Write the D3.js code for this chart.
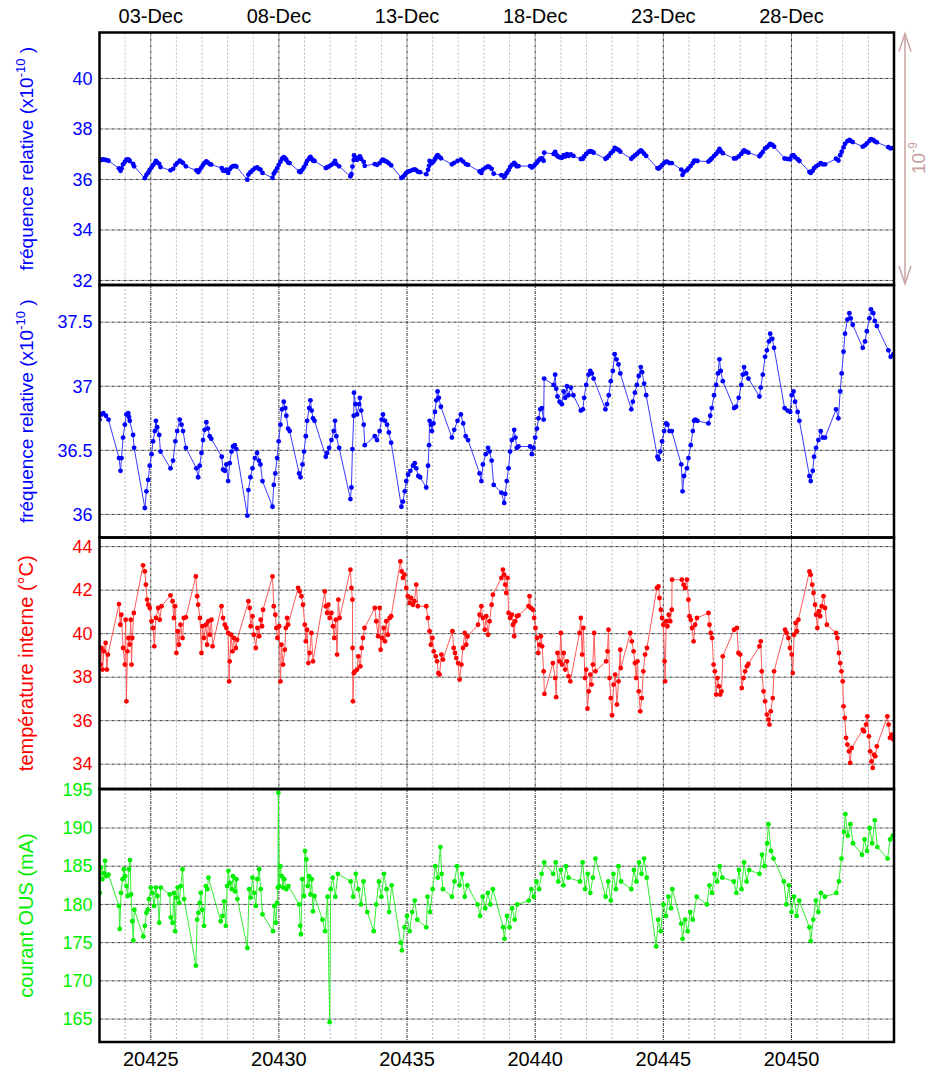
<!DOCTYPE html>
<html lang="fr">
<head>
<meta charset="UTF-8">
<script src="https://cdn.jsdelivr.net/npm/d3@7"></script>
<style>
  body { margin: 0; background: #fff; }
  svg text { font-family: "Liberation Sans", Arial, Helvetica, sans-serif; }
</style>
</head>
<body>
<div id="chart"></div>
<script>
// x axis: day numbers and their calendar labels
const dayTicks = [20425, 20430, 20435, 20440, 20445, 20450];
const dateLabels = ["03-Dec", "08-Dec", "13-Dec", "18-Dec", "23-Dec", "28-Dec"];

// relative frequency (x1e-10), [day, value]
const freqData = [
  [20423.00,36.74],[20423.08,36.78],[20423.15,36.79],[20423.25,36.77],[20423.35,36.74],
  [20423.76,36.44],[20423.82,36.34],[20423.86,36.44],[20423.92,36.60],[20423.99,36.70],[20424.05,36.78],[20424.12,36.79],[20424.15,36.76],[20424.18,36.73],[20424.31,36.62],[20424.35,36.52],
  [20424.77,36.05],[20424.83,36.18],[20424.90,36.27],[20424.96,36.38],[20425.03,36.47],[20425.09,36.57],[20425.16,36.65],[20425.20,36.73],[20425.25,36.68],[20425.33,36.62],[20425.38,36.49],
  [20425.77,36.36],[20425.87,36.42],[20425.96,36.57],[20426.03,36.65],[20426.13,36.74],[20426.20,36.70],[20426.26,36.65],[20426.37,36.52],
  [20426.78,36.36],[20426.85,36.29],[20426.91,36.38],[20426.98,36.48],[20427.04,36.58],[20427.10,36.66],[20427.17,36.72],[20427.23,36.67],[20427.30,36.61],[20427.36,36.59],
  [20427.77,36.45],[20427.82,36.35],[20427.89,36.34],[20427.95,36.39],[20428.02,36.26],[20428.08,36.40],[20428.15,36.49],[20428.21,36.53],[20428.28,36.54],[20428.34,36.51],
  [20428.77,35.99],[20428.81,36.19],[20428.89,36.29],[20428.97,36.36],[20429.06,36.44],[20429.15,36.48],[20429.22,36.42],[20429.28,36.39],[20429.36,36.26],
  [20429.75,36.06],[20429.80,36.23],[20429.86,36.32],[20429.93,36.44],[20429.99,36.57],[20430.06,36.70],[20430.12,36.82],[20430.19,36.88],[20430.25,36.83],[20430.29,36.77],[20430.36,36.67],[20430.42,36.65],
  [20430.79,36.32],[20430.84,36.29],[20430.92,36.39],[20430.98,36.49],[20431.05,36.61],[20431.10,36.73],[20431.18,36.83],[20431.23,36.89],[20431.28,36.81],[20431.33,36.75],[20431.39,36.73],
  [20431.83,36.45],[20431.88,36.48],[20431.96,36.52],[20432.05,36.58],[20432.14,36.65],[20432.19,36.73],[20432.24,36.61],[20432.35,36.52],
  [20432.79,36.12],[20432.83,36.21],[20432.87,36.51],[20432.92,36.77],[20432.93,36.95],[20432.99,36.86],[20433.05,36.78],[20433.13,36.86],[20433.16,36.91],[20433.21,36.81],[20433.31,36.70],[20433.35,36.54],
  [20433.74,36.61],[20433.83,36.58],[20433.93,36.65],[20434.01,36.74],[20434.06,36.78],[20434.14,36.73],[20434.22,36.70],[20434.29,36.64],[20434.38,36.56],
  [20434.78,36.06],[20434.84,36.10],[20434.91,36.18],[20434.97,36.26],[20435.04,36.31],[20435.13,36.34],[20435.23,36.38],[20435.30,36.40],[20435.36,36.36],[20435.44,36.30],[20435.51,36.29],
  [20435.75,36.21],[20435.82,36.38],[20435.86,36.54],[20435.88,36.73],[20435.93,36.70],[20435.97,36.65],[20436.03,36.71],[20436.09,36.80],[20436.14,36.89],[20436.19,36.96],[20436.24,36.91],[20436.32,36.84],
  [20436.75,36.60],[20436.84,36.66],[20436.97,36.73],[20437.10,36.78],[20437.19,36.71],[20437.29,36.61],[20437.38,36.58],
  [20437.83,36.32],[20437.90,36.26],[20437.96,36.39],[20438.07,36.47],[20438.16,36.52],[20438.22,36.49],[20438.30,36.42],[20438.38,36.23],
  [20438.68,36.17],[20438.79,36.09],[20438.83,36.16],[20438.89,36.26],[20438.96,36.36],[20439.02,36.49],[20439.09,36.58],[20439.18,36.66],[20439.23,36.60],[20439.28,36.52],[20439.35,36.53],
  [20439.80,36.53],[20439.87,36.47],[20439.93,36.52],[20440.00,36.60],[20440.07,36.67],[20440.13,36.75],[20440.20,36.82],[20440.26,36.83],[20440.33,36.74],[20440.35,37.06],
  [20440.72,37.01],[20440.78,37.09],[20440.82,36.98],[20440.87,36.92],[20440.95,36.88],[20441.04,36.86],[20441.11,36.96],[20441.17,36.91],[20441.24,37.00],[20441.30,36.93],[20441.39,36.99],[20441.49,36.93],
  [20441.78,36.81],[20441.86,36.82],[20441.91,36.91],[20441.99,37.01],[20442.08,37.09],[20442.15,37.12],[20442.21,37.10],[20442.28,37.06],
  [20442.74,36.82],[20442.80,36.86],[20442.87,36.93],[20442.95,37.04],[20443.03,37.12],[20443.10,37.25],[20443.17,37.21],[20443.25,37.17],[20443.32,37.10],
  [20443.75,36.82],[20443.81,36.88],[20443.89,36.95],[20443.97,37.01],[20444.04,37.08],[20444.12,37.15],[20444.17,37.11],[20444.25,37.02],[20444.33,36.93],
  [20444.77,36.45],[20444.82,36.43],[20444.88,36.49],[20444.95,36.57],[20445.03,36.65],[20445.11,36.71],[20445.16,36.70],[20445.24,36.65],[20445.33,36.65],
  [20445.70,36.39],[20445.75,36.18],[20445.81,36.30],[20445.92,36.36],[20445.98,36.44],[20446.07,36.54],[20446.15,36.65],[20446.20,36.73],[20446.25,36.74],[20446.33,36.73],
  [20446.76,36.71],[20446.83,36.77],[20446.89,36.83],[20446.98,36.93],[20447.06,37.01],[20447.13,37.10],[20447.19,37.21],[20447.24,37.12],[20447.32,37.04],
  [20447.76,36.83],[20447.84,36.84],[20447.94,36.91],[20448.04,37.01],[20448.10,37.09],[20448.15,37.15],[20448.23,37.10],[20448.32,37.06],
  [20448.75,36.92],[20448.80,36.99],[20448.88,37.09],[20448.97,37.23],[20449.04,37.28],[20449.12,37.35],[20449.17,37.41],[20449.25,37.37],[20449.32,37.30],
  [20449.73,36.83],[20449.85,36.81],[20449.95,36.80],[20450.01,36.93],[20450.08,36.96],[20450.14,36.88],[20450.24,36.80],[20450.31,36.73],
  [20450.70,36.30],[20450.75,36.26],[20450.83,36.34],[20450.88,36.45],[20450.96,36.52],[20451.05,36.58],[20451.14,36.65],[20451.22,36.60],[20451.31,36.60],
  [20451.74,36.82],[20451.83,36.75],[20451.90,36.96],[20451.96,37.10],[20452.03,37.27],[20452.09,37.41],[20452.18,37.52],[20452.26,37.57],[20452.31,37.53],[20452.39,37.48],
  [20452.78,37.30],[20452.87,37.35],[20452.94,37.43],[20453.04,37.53],[20453.10,37.60],[20453.19,37.57],[20453.25,37.51],[20453.33,37.47],
  [20453.78,37.28],[20453.87,37.23],[20453.98,37.25]
];

// internal temperature (°C), [day, value]
const tempData = [
  [20423.04,38.58],[20423.08,39.34],[20423.12,38.35],[20423.17,39.19],[20423.24,39.57],[20423.29,38.35],[20423.33,39.04],
  [20423.76,41.36],[20423.81,40.41],[20423.85,40.87],[20423.92,39.34],[20423.99,38.58],[20424.02,40.64],[20424.05,36.89],[20424.09,39.19],[20424.13,39.80],[20424.18,39.50],[20424.22,40.64],[20424.25,38.58],[20424.28,39.80],[20424.34,40.95],
  [20424.70,43.14],[20424.77,42.86],[20424.81,42.25],[20424.86,41.56],[20424.90,41.33],[20424.96,41.18],[20425.03,40.57],[20425.09,40.26],[20425.14,39.42],[20425.20,40.72],[20425.29,41.18],[20425.35,40.64],[20425.42,41.26],
  [20425.77,41.76],[20425.85,41.49],[20425.90,40.72],[20425.95,41.26],[20426.00,39.11],[20426.05,40.11],[20426.10,39.49],[20426.16,40.41],[20426.24,39.80],[20426.29,40.72],[20426.37,40.75],
  [20426.76,42.63],[20426.81,41.72],[20426.85,41.33],[20426.92,40.72],[20426.98,39.11],[20427.02,40.34],[20427.07,39.80],[20427.15,40.41],[20427.20,39.49],[20427.25,40.57],[20427.30,39.95],[20427.37,40.64],[20427.41,39.42],
  [20427.76,41.26],[20427.82,40.72],[20427.89,40.41],[20427.95,40.26],[20428.02,40.03],[20428.06,37.81],[20428.08,38.73],[20428.13,39.95],[20428.19,39.19],[20428.24,39.80],[20428.32,39.34],[20428.37,39.72],
  [20428.81,41.49],[20428.86,41.18],[20428.90,40.34],[20428.97,40.80],[20429.02,39.95],[20429.10,39.34],[20429.16,40.26],[20429.23,39.88],[20429.29,40.64],[20429.34,40.34],[20429.38,41.10],
  [20429.75,42.63],[20429.80,41.26],[20429.86,40.87],[20429.90,40.26],[20429.94,39.80],[20430.01,40.34],[20430.06,37.81],[20430.10,39.49],[20430.16,38.58],[20430.23,39.26],[20430.27,40.26],[20430.32,40.72],[20430.36,40.41],
  [20430.75,42.10],[20430.81,41.94],[20430.88,41.72],[20430.94,41.33],[20431.01,40.41],[20431.05,39.65],[20431.10,40.18],[20431.15,38.65],[20431.20,39.11],[20431.27,40.03],[20431.33,38.73],
  [20431.79,41.94],[20431.83,41.26],[20431.88,40.95],[20431.93,41.33],[20431.98,40.72],[20432.05,40.95],[20432.11,40.34],[20432.16,39.80],[20432.22,40.64],[20432.27,39.04],[20432.32,41.56],[20432.37,40.72],
  [20432.79,42.94],[20432.83,42.10],[20432.87,41.56],[20432.875,39.34],[20432.89,36.89],[20432.92,38.19],[20432.97,38.27],[20433.05,38.35],[20433.10,38.96],[20433.18,38.50],[20433.23,39.34],[20433.28,39.80],[20433.34,40.26],
  [20433.74,41.18],[20433.80,40.57],[20433.87,39.88],[20433.93,41.18],[20433.97,39.26],[20434.03,39.80],[20434.09,40.26],[20434.14,39.65],[20434.19,40.57],[20434.25,39.95],[20434.32,40.72],[20434.38,40.80],
  [20434.74,43.32],[20434.79,42.86],[20434.84,42.56],[20434.90,42.71],[20434.97,42.10],[20435.03,41.72],[20435.10,41.41],[20435.16,41.64],[20435.23,41.33],[20435.29,41.49],[20435.36,42.25],[20435.42,41.26],
  [20435.75,41.26],[20435.81,40.72],[20435.88,40.11],[20435.93,39.49],[20435.99,39.80],[20436.04,39.19],[20436.12,38.96],[20436.17,38.73],[20436.22,38.19],[20436.27,38.12],[20436.34,39.04],[20436.40,38.81],
  [20436.77,40.11],[20436.82,39.34],[20436.87,39.11],[20436.92,38.88],[20436.99,38.65],[20437.05,37.89],[20437.12,38.58],[20437.18,39.34],[20437.25,40.03],[20437.31,39.49],[20437.36,39.87],
  [20437.77,40.41],[20437.83,40.87],[20437.90,41.26],[20437.96,40.72],[20438.03,40.18],[20438.09,40.80],[20438.16,39.95],[20438.22,40.57],[20438.30,41.33],[20438.35,41.79],
  [20438.68,42.56],[20438.74,42.94],[20438.79,42.71],[20438.83,42.25],[20438.87,41.87],[20438.92,42.56],[20438.96,40.95],[20439.02,40.72],[20439.09,40.87],[20439.13,40.41],[20439.18,39.88],[20439.22,40.57],[20439.29,40.80],[20439.35,40.84],
  [20439.74,41.26],[20439.78,41.72],[20439.83,41.18],[20439.91,41.10],[20439.96,40.72],[20440.01,40.26],[20440.07,39.80],[20440.12,39.11],[20440.17,39.49],[20440.22,39.88],[20440.27,39.42],[20440.33,38.27],[20440.36,37.23],
  [20440.69,38.65],[20440.78,37.96],[20440.82,37.08],[20440.87,39.11],[20440.95,38.73],[20441.00,40.03],[20441.05,38.58],[20441.11,39.11],[20441.17,38.35],[20441.24,38.73],[20441.30,38.04],[20441.37,37.81],
  [20441.73,40.03],[20441.78,40.72],[20441.83,39.04],[20441.88,40.26],[20441.94,37.96],[20441.99,38.35],[20442.04,36.55],[20442.09,37.35],[20442.15,38.12],[20442.20,37.66],[20442.25,38.58],[20442.30,40.03],[20442.35,38.27],
  [20442.77,38.73],[20442.82,39.19],[20442.86,40.18],[20442.90,37.96],[20442.95,37.04],[20443.00,36.25],[20443.06,37.66],[20443.12,38.12],[20443.19,36.74],[20443.25,37.81],[20443.32,39.26],[20443.34,38.42],
  [20443.71,40.03],[20443.77,39.65],[20443.84,39.19],[20443.89,38.65],[20443.94,37.96],[20443.99,38.73],[20444.04,37.35],[20444.10,36.43],[20444.16,37.04],[20444.22,38.27],[20444.29,39.04],[20444.36,39.34],
  [20444.75,42.10],[20444.81,42.17],[20444.85,41.64],[20444.90,41.10],[20444.95,40.72],[20445.00,40.41],[20445.05,38.73],[20445.07,37.81],[20445.11,40.57],[20445.16,40.34],[20445.21,40.87],[20445.27,40.57],[20445.33,41.10],[20445.34,42.48],
  [20445.72,42.48],[20445.79,42.25],[20445.85,42.10],[20445.92,42.48],[20445.98,41.56],[20446.02,40.80],[20446.07,40.64],[20446.12,40.26],[20446.18,39.65],[20446.24,40.41],[20446.31,40.72],
  [20446.76,40.95],[20446.80,40.41],[20446.85,40.03],[20446.90,39.80],[20446.96,38.58],[20447.01,38.27],[20447.06,37.20],[20447.11,37.96],[20447.17,37.58],[20447.22,37.20],[20447.27,37.35],[20447.32,38.96],
  [20447.76,40.18],[20447.87,40.26],[20447.93,39.11],[20448.00,39.04],[20448.06,37.50],[20448.13,37.96],[20448.19,38.27],[20448.26,38.50],[20448.32,38.61],
  [20448.75,39.42],[20448.80,39.65],[20448.84,38.27],[20448.91,37.35],[20448.97,36.89],[20449.04,36.28],[20449.10,36.05],[20449.14,35.82],[20449.19,36.43],[20449.27,37.04],[20449.32,38.27],
  [20449.75,40.18],[20449.81,40.03],[20449.88,39.80],[20449.94,39.34],[20450.01,39.04],[20450.05,38.19],[20450.10,39.95],[20450.16,40.49],[20450.21,40.11],[20450.27,40.64],
  [20450.70,42.86],[20450.75,42.71],[20450.81,42.25],[20450.86,41.87],[20450.92,41.33],[20450.96,40.87],[20451.01,40.26],[20451.07,41.03],[20451.12,40.80],[20451.18,41.26],[20451.25,41.72],[20451.31,41.18],[20451.38,40.41],
  [20451.74,40.03],[20451.79,39.80],[20451.85,39.11],[20451.90,38.65],[20451.95,38.27],[20452.00,37.81],[20452.03,36.66],[20452.08,36.13],[20452.13,35.21],[20452.18,34.90],[20452.24,34.59],[20452.29,34.06],[20452.35,34.75],
  [20452.78,35.59],[20452.83,35.51],[20452.91,35.82],[20452.96,36.20],[20453.02,35.28],[20453.07,34.59],[20453.12,34.13],[20453.17,33.83],[20453.22,34.44],[20453.27,34.36],[20453.33,34.82],
  [20453.74,36.20],[20453.79,35.82],[20453.84,35.21],[20453.91,35.36],[20453.98,35.13]
];

// OUS current (mA), [day, value]
const currentData = [
  [20423.01,181.5],[20423.05,184.8],[20423.11,183.3],[20423.17,184.1],[20423.22,185.7],[20423.27,183.7],[20423.35,183.9],
  [20423.76,179.8],[20423.79,176.8],[20423.84,181.5],[20423.90,183.3],[20423.95,184.6],[20424.00,183.7],[20424.05,182.4],[20424.10,181.1],[20424.15,184.6],[20424.19,185.8],[20424.23,181.3],[20424.28,177.8],[20424.32,175.3],[20424.36,179.3],
  [20424.71,175.8],[20424.77,177.2],[20424.83,178.9],[20424.88,179.3],[20424.93,180.7],[20425.00,182.2],[20425.07,181.5],[20425.13,179.8],[20425.20,182.2],[20425.26,181.1],[20425.33,177.6],[20425.39,182.2],
  [20425.74,181.3],[20425.78,178.3],[20425.85,177.6],[20425.91,181.5],[20425.95,176.5],[20426.00,180.9],[20426.05,182.2],[20426.11,180.2],[20426.17,182.4],[20426.24,184.6],[20426.30,180.7],
  [20426.76,172.0],[20426.81,178.0],[20426.86,178.9],[20426.91,180.2],[20426.95,181.5],[20427.01,179.3],[20427.08,177.2],[20427.15,182.4],[20427.21,182.0],[20427.25,183.5],
  [20427.73,177.8],[20427.80,178.5],[20427.86,180.4],[20427.93,177.2],[20427.98,182.4],[20428.03,184.4],[20428.08,182.8],[20428.16,182.0],[20428.21,183.7],[20428.29,181.7],[20428.34,183.3],[20428.38,180.7],
  [20428.77,174.3],[20428.84,182.0],[20428.90,180.9],[20428.97,183.5],[20429.03,181.5],[20429.10,179.8],[20429.16,183.3],[20429.23,184.6],[20429.29,182.0],[20429.36,178.7],
  [20429.77,176.5],[20429.82,179.8],[20429.88,177.6],[20429.93,180.2],[20429.96,182.2],[20429.98,194.6],[20430.01,182.4],[20430.06,185.0],[20430.11,183.7],[20430.16,182.2],[20430.21,183.3],[20430.29,182.0],[20430.37,182.4],
  [20430.79,180.0],[20430.83,177.2],[20430.86,176.1],[20430.91,183.3],[20430.98,181.1],[20431.02,187.0],[20431.07,185.9],[20431.12,182.4],[20431.18,183.7],[20431.23,181.3],[20431.28,183.3],[20431.33,179.1],[20431.39,181.1],
  [20431.70,178.0],[20431.80,176.5],[20431.90,181.0],[20431.98,164.6],[20432.02,182.0],[20432.10,183.5],[20432.20,181.0],[20432.30,184.0],
  [20432.80,183.0],[20432.90,181.0],[20433.00,184.0],[20433.10,182.0],[20433.20,180.0],[20433.30,183.0],[20433.45,179.0],
  [20433.70,176.5],[20433.80,180.0],[20433.90,183.0],[20434.00,181.0],[20434.10,184.0],[20434.20,182.0],[20434.30,179.0],[20434.40,182.5],
  [20434.75,175.0],[20434.80,174.0],[20434.90,177.0],[20435.00,178.5],[20435.10,176.5],[20435.20,179.0],[20435.30,180.5],[20435.40,178.0],
  [20435.75,177.0],[20435.80,181.0],[20435.90,179.0],[20436.00,182.0],[20436.10,185.0],[20436.20,183.5],[20436.30,187.5],[20436.35,184.0],[20436.40,182.0],
  [20436.75,181.0],[20436.85,183.0],[20436.95,185.0],[20437.05,182.5],[20437.15,184.0],[20437.25,181.0],[20437.35,182.5],
  [20437.75,180.0],[20437.85,178.5],[20437.95,181.0],[20438.05,179.5],[20438.15,181.5],[20438.25,180.0],[20438.35,182.0],
  [20438.75,177.0],[20438.80,175.5],[20438.90,178.5],[20439.00,177.0],[20439.10,179.5],[20439.20,178.0],[20439.30,180.0],
  [20439.75,180.5],[20439.85,182.0],[20439.95,181.0],[20440.05,183.0],[20440.15,182.0],[20440.25,184.0],[20440.35,185.5],
  [20440.70,184.0],[20440.80,185.5],[20440.90,183.0],[20441.00,184.5],[20441.10,182.5],[20441.20,185.0],[20441.30,183.5],
  [20441.75,183.0],[20441.85,185.5],[20441.95,182.0],[20442.05,184.0],[20442.15,181.5],[20442.25,183.5],[20442.35,186.0],
  [20442.75,181.0],[20442.85,183.0],[20442.95,180.5],[20443.05,184.0],[20443.15,182.0],[20443.25,185.0],[20443.35,183.0],
  [20443.75,182.0],[20443.85,184.5],[20443.95,183.0],[20444.05,185.5],[20444.15,184.0],[20444.25,186.0],[20444.35,183.5],
  [20444.72,174.5],[20444.80,178.0],[20444.90,176.5],[20445.00,180.0],[20445.10,178.5],[20445.20,181.0],[20445.30,179.5],[20445.35,182.0],
  [20445.70,177.5],[20445.75,175.5],[20445.85,178.0],[20445.95,176.5],[20446.05,179.0],[20446.15,178.0],[20446.30,181.0],
  [20446.70,180.0],[20446.80,182.5],[20446.90,181.5],[20447.00,184.0],[20447.10,183.0],[20447.20,185.0],[20447.30,183.5],
  [20447.75,183.0],[20447.85,181.5],[20447.95,184.5],[20448.05,182.0],[20448.15,185.5],[20448.25,183.0],[20448.35,184.5],
  [20448.75,184.0],[20448.85,186.5],[20448.95,185.0],[20449.05,188.0],[20449.10,190.5],[20449.20,187.0],[20449.30,186.0],
  [20449.70,183.0],[20449.80,180.0],[20449.90,182.5],[20450.00,179.0],[20450.10,181.0],[20450.20,178.5],[20450.30,180.5],
  [20450.70,177.0],[20450.75,175.2],[20450.85,178.0],[20450.95,180.5],[20451.05,179.0],[20451.15,181.5],[20451.30,181.0],
  [20451.75,181.5],[20451.85,183.0],[20451.95,186.0],[20452.05,189.5],[20452.10,191.8],[20452.20,189.0],[20452.30,190.5],[20452.40,188.0],
  [20452.75,186.5],[20452.85,188.5],[20452.95,187.0],[20453.05,190.0],[20453.15,188.0],[20453.25,191.0],[20453.35,187.5],
  [20453.75,186.0],[20453.85,188.5],[20453.95,189.0]
];

const W = 930, H = 1071;
const left = 99.5, right = 894;
const panelTops = [32.5, 285, 537.5, 789, 1042];

const svg = d3.select("#chart").append("svg")
  .attr("width", W).attr("height", H);

const x = d3.scaleLinear().domain([20423, 20454]).range([left, right]);

const panels = [
  { data: freqData, domain: [31.82, 41.82], ticks: [32, 34, 36, 38, 40], size: 19,
    color: "#0000ff", line: "#3a3aff", label: "fréquence relative (x10", sup: "-10", tail: " )" },
  { data: freqData, domain: [35.82, 37.79], ticks: [36, 36.5, 37, 37.5], size: 19,
    color: "#0000ff", line: "#3a3aff", label: "fréquence relative (x10", sup: "-10", tail: " )" },
  { data: tempData, domain: [32.86, 44.42], ticks: [34, 36, 38, 40, 42, 44], size: 20,
    color: "#ff0000", line: "#ff5a5a", label: "température interne (°C)" },
  { data: currentData, domain: [162.0, 195.1], ticks: [165, 170, 175, 180, 185, 190, 195], size: 20,
    color: "#00ee00", line: "#33ee33", label: "courant OUS (mA)" }
];

const minorDays = d3.range(20424, 20454);

panels.forEach((p, i) => {
  const top = panelTops[i], bottom = panelTops[i + 1];
  const y = d3.scaleLinear().domain(p.domain).range([bottom, top]);
  const g = svg.append("g");

  g.append("clipPath").attr("id", "clip" + i)
    .append("rect").attr("x", left).attr("y", top)
    .attr("width", right - left).attr("height", bottom - top);

  // minor vertical grid (every day)
  g.selectAll(".minor").data(minorDays.filter(d => d % 5 !== 0)).join("line")
    .attr("x1", d => x(d)).attr("x2", d => x(d))
    .attr("y1", top).attr("y2", bottom)
    .attr("stroke", "#b8b8b8").attr("stroke-width", 1)
    .attr("stroke-dasharray", "2,2");

  // major vertical grid
  g.selectAll(".major").data(dayTicks).join("line")
    .attr("x1", d => x(d)).attr("x2", d => x(d))
    .attr("y1", top).attr("y2", bottom)
    .attr("stroke", "#333").attr("stroke-width", 1)
    .attr("stroke-dasharray", "3,1,1,1");

  // horizontal grid
  g.selectAll(".hgrid").data(p.ticks).join("line")
    .attr("x1", left).attr("x2", right)
    .attr("y1", d => y(d)).attr("y2", d => y(d))
    .attr("stroke", "#333").attr("stroke-width", 1)
    .attr("stroke-dasharray", "3,1,1,1");

  // y axis labels
  const axis = g.append("g").attr("transform", `translate(${left},0)`)
    .call(d3.axisLeft(y).tickValues(p.ticks).tickFormat(d => String(d)).tickSize(0).tickPadding(7));
  axis.select(".domain").remove();
  axis.selectAll("text").attr("fill", p.color).attr("font-size", 18)
    .attr("font-family", "'Liberation Sans', Arial, sans-serif");

  // series
  const plot = g.append("g").attr("clip-path", `url(#clip${i})`);
  plot.append("path").datum(p.data)
    .attr("fill", "none").attr("stroke", p.line).attr("stroke-width", 1)
    .attr("d", d3.line().x(d => x(d[0])).y(d => y(d[1])));
  plot.selectAll("circle").data(p.data).join("circle")
    .attr("cx", d => x(d[0])).attr("cy", d => y(d[1]))
    .attr("r", 2.4).attr("fill", p.color);

  // axis title
  const cy = (top + bottom) / 2;
  const t = g.append("text")
    .attr("transform", `translate(33,${cy}) rotate(-90)`)
    .attr("text-anchor", "middle").attr("fill", p.color).attr("font-size", p.size);
  t.append("tspan").text(p.label);
  if (p.sup) {
    t.append("tspan").attr("dy", -8).attr("font-size", 13).text(p.sup);
    t.append("tspan").attr("dy", 8).text(p.tail);
  }

  // panel frame
  g.append("rect").attr("x", left).attr("y", top)
    .attr("width", right - left).attr("height", bottom - top)
    .attr("fill", "none").attr("stroke", "#000").attr("stroke-width", 2.5);
});

// bottom axis labels
svg.append("g").selectAll("text").data(dayTicks).join("text")
  .attr("x", d => x(d)).attr("y", 1066)
  .attr("text-anchor", "middle").attr("font-size", 20).attr("fill", "#000")
  .text(d => d);

// top date labels
svg.append("g").selectAll("text").data(dayTicks).join("text")
  .attr("x", d => x(d)).attr("y", 23)
  .attr("text-anchor", "middle").attr("font-size", 20).attr("fill", "#000")
  .text((d, i) => dateLabels[i]);

// scale arrow showing 1e-9 on the top panel
const arrowColor = "#c9a3a3";
const yTop = panelTops[0] + 1, yBot = panelTops[1] - 1, ax = 905;
const arrow = svg.append("g").attr("stroke", arrowColor).attr("stroke-width", 1.5).attr("fill", "none");
arrow.append("line").attr("x1", ax).attr("x2", ax).attr("y1", yTop).attr("y2", yBot);
arrow.append("path").attr("d", `M${ax - 6},${yTop + 18}L${ax},${yTop}L${ax + 6},${yTop + 18}`);
arrow.append("path").attr("d", `M${ax - 6},${yBot - 18}L${ax},${yBot}L${ax + 6},${yBot - 18}`);
const lab = svg.append("text")
  .attr("transform", `translate(925,174) rotate(-90)`)
  .attr("fill", arrowColor).attr("font-size", 19);
lab.append("tspan").text("10");
lab.append("tspan").attr("dy", -8).attr("font-size", 12).text("-9");
</script>
</body>
</html>
